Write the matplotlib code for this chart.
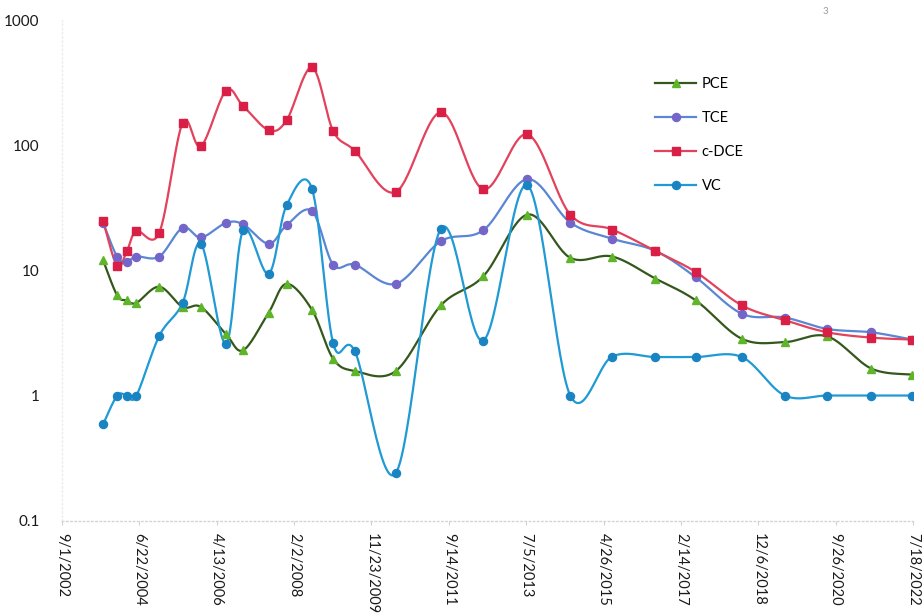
#!/usr/bin/env python3
'''
Chlorinated ethene concentrations over time, log scale, smoothed lines
'''
import numpy as np
import pandas as pd
import matplotlib
matplotlib.use('Agg')
import matplotlib.pyplot as plt
import matplotlib.dates as mdates

plt.rcParams['font.family'] = ['Lato', 'DejaVu Sans']

sample_dates = ['2003-08-18', '2003-12-16', '2004-03-08', '2004-05-28', '2004-12-09',
                '2005-06-26', '2005-11-29', '2006-06-30', '2006-11-25', '2007-06-30',
                '2007-11-30', '2008-07-03', '2008-12-31', '2009-07-05', '2010-06-19',
                '2011-07-08', '2012-07-04', '2013-07-16', '2014-07-16', '2015-07-09',
                '2016-07-11', '2017-06-21', '2018-07-19', '2019-07-20', '2020-07-17',
                '2021-07-28', '2022-07-10']

pce = [12.0, 6.3, 5.75, 5.5, 7.4, 5.1, 5.1, 3.1, 2.3, 4.6, 7.8, 4.85, 1.97, 1.57, 1.57,
       5.25, 8.96, 27.9, 12.6, 12.9, 8.6, 5.75, 2.84, 2.67, 2.97, 1.64, 1.47]
tce = [24.0, 12.8, 11.7, 12.9, 12.9, 21.9, 18.3, 23.9, 23.3, 16.3, 22.9, 29.8, 11.1, 11.1, 7.8,
       17.1, 20.9, 53.5, 24.1, 17.9, 14.3, 8.8, 4.5, 4.2, 3.4, 3.2, 2.8]
cdce = [24.7, 10.8, 14.3, 20.6, 20.0, 151, 98, 272, 205, 132, 158, 418, 130, 90, 42.3,
        183, 44.5, 122, 27.9, 21.2, 14.3, 9.7, 5.25, 4.0, 3.2, 2.9, 2.8]
vc = [0.59, 1.0, 1.0, 1.0, 3.0, 5.5, 16.3, 2.6, 20.9, 9.4, 33.1, 45, 2.62, 2.25, 0.24,
      21.5, 2.75, 47.9, 1.0, 2.05, 2.03, 2.03, 2.03, 1.0, 1.0, 1.0, 1.0]

x_start = '2002-09-01'
x_end = '2022-07-18'
tick_step_days = 660
y_ticks = [0.1, 1, 10, 100, 1000]
y_tick_labels = ['0.1', '1', '10', '100', '1000']


def smooth_curve(xs, ys, steps=30):
    '''
    cubic bezier through every point, control points from the neighbours
    (worked out in x / log10(y) space so it stays smooth on the log axis)
    '''
    pts = np.column_stack([xs, np.log10(ys)])
    n = len(pts)
    t = np.linspace(0, 1, steps)[:, None]
    out = [pts[:1]]
    for i in range(n - 1):
        p0 = pts[i - 1] if i > 0 else pts[i]
        p1 = pts[i]
        p2 = pts[i + 1]
        p3 = pts[i + 2] if i + 2 < n else pts[i + 1]
        c1 = p1 + (p2 - p0) / 6.0
        c2 = p2 - (p3 - p1) / 6.0
        seg = ((1 - t) ** 3 * p1 + 3 * (1 - t) ** 2 * t * c1
               + 3 * (1 - t) * t ** 2 * c2 + t ** 3 * p2)
        out.append(seg[1:])
    curve = np.vstack(out)
    return curve[:, 0], 10 ** curve[:, 1]


fig = plt.figure(figsize=(9.23, 6.16), dpi=100)
ax = fig.add_axes([62 / 923, 1 - 520.7 / 616, 851 / 923, 500.7 / 616])

x_num = mdates.date2num(pd.to_datetime(sample_dates))

series = [
    ('PCE', pce, '#34581c', '#5fb52a', '^'),
    ('TCE', tce, '#5a86d4', '#7466c8', 'o'),
    ('c-DCE', cdce, '#e2425c', '#d91f45', 's'),
    ('VC', vc, '#1f9ad4', '#1a84c2', 'o'),
]

for name, values, line_col, mark_col, marker in series:
    sx, sy = smooth_curve(x_num, np.array(values, dtype=float))
    ax.plot(sx, sy, color=line_col, lw=1.6, zorder=2)
    ax.plot(x_num, values, linestyle='none', marker=marker, ms=5.8,
            color=mark_col, mec=mark_col, zorder=3)
    # proxy artist for the legend
    ax.plot([], [], color=line_col, lw=1.6, marker=marker, ms=5.8,
            mfc=mark_col, mec=mark_col, label=name)

ax.set_yscale('log')
ax.set_ylim(0.1, 1000)
ax.set_yticks(y_ticks)
ax.set_yticklabels(y_tick_labels)
ax.yaxis.set_minor_locator(matplotlib.ticker.NullLocator())

x0 = mdates.date2num(pd.Timestamp(x_start))
x1 = mdates.date2num(pd.Timestamp(x_end))
ax.set_xlim(x0, x1)
xt = np.arange(x0, x1 + 1, tick_step_days)
ax.set_xticks(xt)
ax.set_xticklabels([f'{d.month}/{d.day}/{d.year}' for d in mdates.num2date(xt)],
                   rotation=270, va='top', ha='center')

for side in ['top', 'right']:
    ax.spines[side].set_visible(False)
ax.spines['left'].set_color('#ececec')
ax.spines['bottom'].set_color('#d4d4d4')
for side in ['left', 'bottom']:
    ax.spines[side].set_linestyle((0, (1, 2)))
    ax.spines[side].set_linewidth(1.0)

ax.tick_params(axis='x', length=3, color='#d0d0d0', labelsize=10.5, pad=6,
               labelcolor='#1a1a1a')
ax.tick_params(axis='y', length=0, labelsize=11, pad=16, labelcolor='#1a1a1a')

ax.legend(loc='upper left', bbox_to_anchor=(642 / 923, 1 - 64 / 616),
          bbox_transform=fig.transFigure, frameon=False, fontsize=10.5,
          handlelength=2.8, handletextpad=0.4, labelspacing=1.38)

fig.text(825 / 923, 1 - 12 / 616, '3', fontsize=7, color='#9a9a9a', ha='center', va='center')

fig.savefig('out.png', dpi=100)
